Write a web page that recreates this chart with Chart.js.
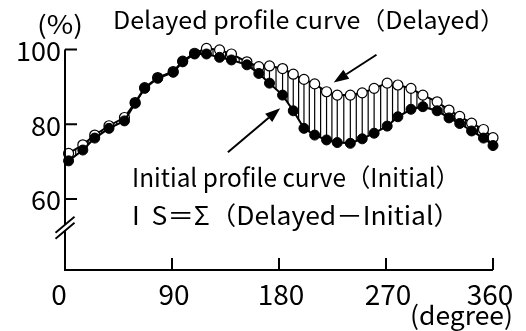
<!DOCTYPE html>
<html>
<head>
<meta charset="utf-8">
<script src="https://cdn.jsdelivr.net/npm/chart.js@4"></script>
<style>
  html, body { margin: 0; padding: 0; background: #fff; }
</style>
</head>
<body>
<canvas id="profileChart" width="526" height="331"></canvas>
<script>
// angle (degree) of each sample
const angles  = [3, 15, 25, 37, 50, 59, 67, 78, 91, 99, 109, 119, 130, 140, 153, 163, 172, 183,
                 192, 201, 210, 220, 229, 240, 250, 260, 271, 280, 291, 301, 313, 323, 332, 342, 352, 360];
// uptake (%)
const delayed = [72.2, 74.5, 77.1, 79.6, 81.8, 85.8, 89.8, 92.5, 94.1, 96.9, 99.0, 100.3, 99.9, 98.8,
                 96.7, 95.4, 95.6, 94.9, 93.4, 92.0, 90.8, 88.7, 87.8, 87.8, 88.4, 89.6, 91.0, 90.5,
                 89.6, 87.8, 86.0, 83.8, 82.1, 80.3, 78.6, 76.4];
const initial = [70.2, 73.1, 76.3, 78.9, 80.9, 85.6, 89.6, 92.3, 93.9, 96.7, 98.8, 98.8, 97.9, 97.2,
                 95.9, 93.6, 91.0, 87.8, 83.6, 78.9, 77.1, 75.8, 75.1, 74.9, 76.1, 77.6, 79.5, 82.0,
                 84.0, 84.7, 83.6, 81.7, 80.2, 78.2, 76.3, 74.3];
const xTicks = [0, 90, 180, 270, 360];
const yTicks = [60, 80, 100];

const FONT = '"Noto Sans CJK JP", "Noto Sans", sans-serif';

function fitText(ctx, str, left, right, baseline, size) {
  ctx.font = size + 'px ' + FONT;
  const w = ctx.measureText(str).width;
  ctx.save();
  ctx.translate(left, baseline);
  ctx.scale((right - left) / w, 1);
  ctx.textAlign = 'left';
  ctx.textBaseline = 'alphabetic';
  ctx.fillText(str, 0, 0);
  ctx.restore();
}

function arrow(ctx, x1, y1, x2, y2) {
  const a = Math.atan2(y2 - y1, x2 - x1);
  const len = 15, half = 5.5;
  const bx = x2 - len * Math.cos(a), by = y2 - len * Math.sin(a);
  ctx.beginPath();
  ctx.moveTo(x1, y1);
  ctx.lineTo(bx, by);
  ctx.stroke();
  ctx.beginPath();
  ctx.moveTo(x2, y2);
  ctx.lineTo(bx + half * Math.sin(a), by - half * Math.cos(a));
  ctx.lineTo(bx - half * Math.sin(a), by + half * Math.cos(a));
  ctx.closePath();
  ctx.fill();
}

const hatch = {
  id: 'hatch',
  beforeDatasetsDraw(chart) {
    const { ctx, scales: { x, y } } = chart;
    ctx.save();
    ctx.strokeStyle = '#000';
    ctx.lineWidth = 1.2;
    ctx.beginPath();
    for (let i = 0; i < angles.length; i++) {
      const px = x.getPixelForValue(angles[i]);
      ctx.moveTo(px, y.getPixelForValue(delayed[i]));
      ctx.lineTo(px, y.getPixelForValue(initial[i]));
      if (i < angles.length - 1) {
        const mx = x.getPixelForValue((angles[i] + angles[i + 1]) / 2);
        ctx.moveTo(mx, y.getPixelForValue((delayed[i] + delayed[i + 1]) / 2));
        ctx.lineTo(mx, y.getPixelForValue((initial[i] + initial[i + 1]) / 2));
      }
    }
    ctx.stroke();
    ctx.restore();
  }
};

const decor = {
  id: 'decor',
  afterDraw(chart) {
    const { ctx, scales: { x, y } } = chart;
    const x0 = x.getPixelForValue(0);
    const yb = y.getPixelForValue(y.min);
    const yTop = y.getPixelForValue(100);
    const yBreak = y.getPixelForValue(52.3);
    ctx.save();
    ctx.strokeStyle = '#000';
    ctx.fillStyle = '#000';
    ctx.lineWidth = 2;
    ctx.lineCap = 'butt';

    // axes with break
    ctx.beginPath();
    ctx.moveTo(x0, yTop);
    ctx.lineTo(x0, yBreak - 3);
    ctx.moveTo(x0, yBreak + 3);
    ctx.lineTo(x0, yb);
    ctx.lineTo(x.getPixelForValue(360), yb);
    ctx.stroke();

    ctx.lineWidth = 1.8;
    ctx.beginPath();
    [-3, 3].forEach(d => {
      ctx.moveTo(x0 - 9.5, yBreak + d + 8);
      ctx.lineTo(x0 + 9.5, yBreak + d - 8);
    });
    ctx.stroke();

    // ticks (inside)
    ctx.lineWidth = 2;
    ctx.beginPath();
    yTicks.forEach(v => {
      const py = y.getPixelForValue(v);
      ctx.moveTo(x0, py);
      ctx.lineTo(x0 + 12, py);
    });
    xTicks.slice(1).forEach(v => {
      const px = x.getPixelForValue(v);
      ctx.moveTo(px, yb);
      ctx.lineTo(px, yb - 12);
    });
    ctx.stroke();

    // tick labels
    ctx.font = '27px ' + FONT;
    ctx.textAlign = 'right';
    ctx.textBaseline = 'middle';
    yTicks.forEach(v => ctx.fillText(String(v), x0 - 4, y.getPixelForValue(v) + 1));
    ctx.font = '28px ' + FONT;
    ctx.textAlign = 'center';
    xTicks.forEach((v, i) => {
      const px = x.getPixelForValue(v) + (i === 0 ? -6 : i === 4 ? -3 : 2);
      ctx.fillText(String(v), px, yb + 24);
    });

    // axis titles and notes
    fitText(ctx, '(%)', 37, 83, 34, 25);
    fitText(ctx, '(degree)', 410, 513, 325, 26);
    fitText(ctx, 'Delayed profile curve（Delayed）', 113, 505, 29, 24);
    fitText(ctx, 'Initial profile curve（Initial）', 132, 460, 187, 25);
    fitText(ctx, 'I  S＝Σ（Delayed－Initial）', 132, 460, 225, 25);

    // arrows
    ctx.lineWidth = 2;
    arrow(ctx, x.getPixelForValue(262), y.getPixelForValue(98.6), x.getPixelForValue(226), y.getPixelForValue(91.2));
    arrow(ctx, x.getPixelForValue(137), y.getPixelForValue(72.5), x.getPixelForValue(181), y.getPixelForValue(84.3));
    ctx.restore();
  }
};

new Chart(document.getElementById('profileChart'), {
  type: 'line',
  data: {
    datasets: [{
      label: 'Initial',
      data: angles.map((a, i) => ({ x: a, y: initial[i] })),
      borderColor: '#000',
      borderWidth: 2,
      backgroundColor: '#000',
      pointBackgroundColor: '#000',
      pointBorderColor: '#000',
      pointRadius: 5,
      pointBorderWidth: 1,
      tension: 0,
    }, {
      label: 'Delayed',
      data: angles.map((a, i) => ({ x: a, y: delayed[i] })),
      borderColor: '#000',
      borderWidth: 2,
      pointBackgroundColor: '#fff',
      pointBorderColor: '#000',
      pointRadius: 5,
      pointBorderWidth: 1.2,
      tension: 0,
    }]
  },
  options: {
    responsive: false,
    animation: false,
    devicePixelRatio: 1,
    clip: false,
    layout: { padding: { left: 65, right: 33, top: 49.5, bottom: 61 } },
    plugins: {
      legend: { display: false },
      tooltip: { enabled: false },
    },
    scales: {
      x: { type: 'linear', min: 0, max: 360, display: false },
      y: { min: 41, max: 100, display: false },
    }
  },
  plugins: [hatch, decor]
});
</script>
</body>
</html>
